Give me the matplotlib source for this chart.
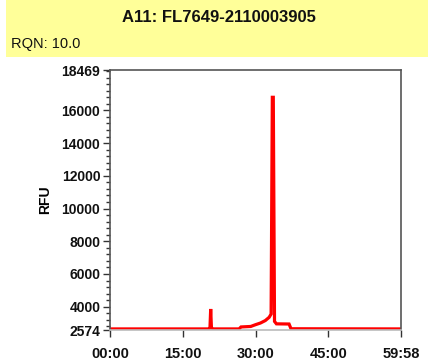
import matplotlib.pyplot as plt
from matplotlib.patches import Rectangle
from matplotlib.ticker import FixedLocator, MultipleLocator

# electropherogram trace, time in minutes, signal in RFU
time_min = [0.0, 20.4, 20.6, 20.75, 20.9, 21.2, 26.6, 27.0, 29.0, 30.0, 31.0,
            32.0, 32.8, 33.2, 33.45, 33.65, 33.9, 34.3, 36.9, 37.3, 59.97]
rfu = [2640, 2640, 2700, 3860, 2720, 2640, 2640, 2760, 2790, 2900, 3000,
       3150, 3350, 3550, 16800, 16800, 3100, 2950, 2940, 2650, 2640]

y_ticks = [2574, 4000, 6000, 8000, 10000, 12000, 14000, 16000, 18469]
x_ticks = [0, 15, 30, 45, 59.967]
x_labels = ['00:00', '15:00', '30:00', '45:00', '59:58']

title = 'A11: FL7649-2110003905'
rqn = 'RQN: 10.0'

plt.rcParams['font.family'] = ['Liberation Sans', 'DejaVu Sans']

fig = plt.figure(figsize=(4.28, 3.62), dpi=100)

# yellow header band
fig.patches.append(Rectangle((6 / 428, 1 - 57 / 362), 422 / 428, 57 / 362,
                             transform=fig.transFigure, facecolor='#ffff99',
                             edgecolor='none'))
fig.text(219 / 428, 1 - 17 / 362, title, ha='center', va='center',
         fontsize=12, fontweight='bold', color='#111111')
fig.text(11 / 428, 1 - 44 / 362, rqn, ha='left', va='center',
         fontsize=10.5, color='#111111')

ax = fig.add_axes([110 / 428, 32 / 362, 291 / 428, 260 / 362])
ax.plot(time_min, rfu, color='#ff0000', linewidth=2.3, solid_joinstyle='miter')

ax.set_xlim(0, 59.967)
ax.set_ylim(2574, 18469)
ax.xaxis.set_major_locator(FixedLocator(x_ticks))
ax.set_xticklabels(x_labels)
ax.yaxis.set_major_locator(FixedLocator(y_ticks))
ax.yaxis.set_minor_locator(MultipleLocator(400))
ax.set_ylabel('RFU', fontsize=10, fontweight='bold')
ax.yaxis.set_label_coords(-0.2, 0.5)

ax.tick_params(axis='y', which='major', direction='out', length=5,
               width=1, color='#333333', labelsize=10, pad=2)
ax.tick_params(axis='x', which='major', direction='out', length=5,
               width=1, color='#333333', labelsize=10.5, pad=7)
ax.tick_params(axis='y', which='minor', direction='out', length=3,
               width=1, color='#333333')
for lab in ax.get_xticklabels() + ax.get_yticklabels():
    lab.set_fontweight('bold')
    lab.set_color('#111111')

for side in ['left', 'top', 'right']:
    ax.spines[side].set_color('#555555')
    ax.spines[side].set_linewidth(1.2)
ax.spines['bottom'].set_color('#bbbbbb')
ax.spines['bottom'].set_linewidth(1.2)

fig.savefig('out.png', dpi=100)
